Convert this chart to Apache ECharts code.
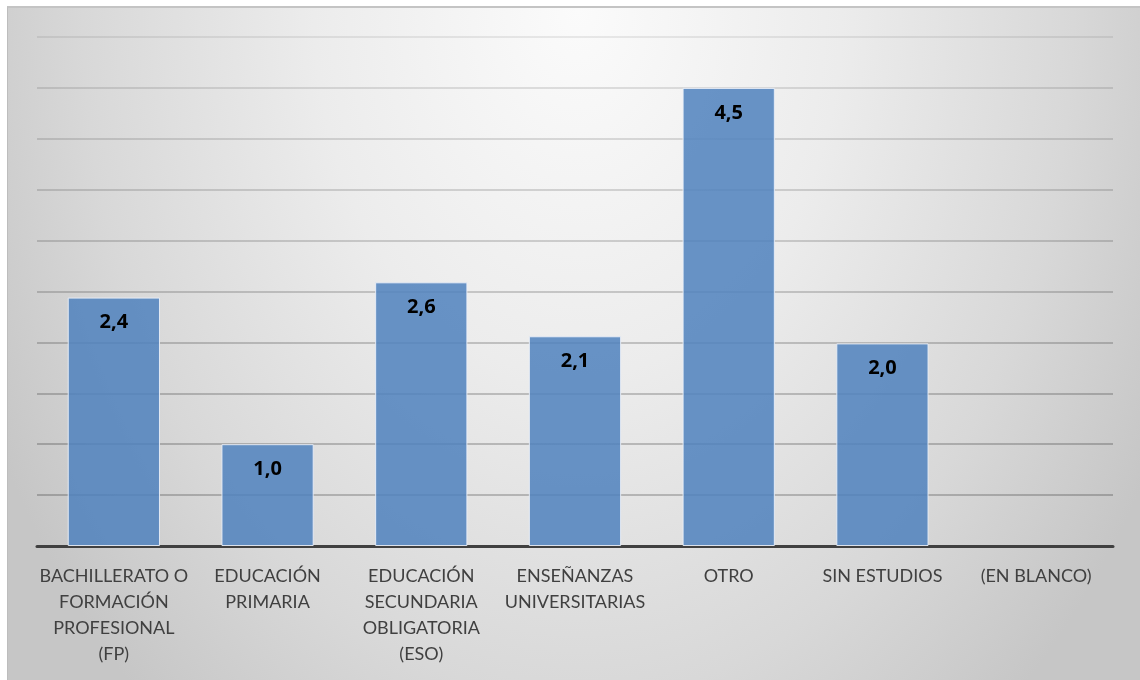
<!DOCTYPE html>
<html>
<head>
<meta charset="utf-8">
<script src="https://cdn.jsdelivr.net/npm/echarts@6/dist/echarts.min.js"></script>
<style>
  html, body { margin: 0; padding: 0; background: #ffffff; }
  #wrap { position: relative; width: 1140px; height: 680px; overflow: hidden; background: #ffffff; }
  #frame {
    position: absolute; left: 7px; top: 6px; width: 1140px; height: 680px;
    border-left: 1px solid #bdbdbd; border-top: 2px solid #c4c4c4;
    background: radial-gradient(ellipse 660px 920px at 50% 0%, #fbfbfb 0%, #ececec 40%, #d8d8d8 75%, #c6c6c6 100%);
  }
  #chart { position: absolute; left: 0; top: 0; width: 1140px; height: 680px; }
</style>
</head>
<body>
<div id="wrap">
  <div id="frame"></div>
  <div id="chart"></div>
</div>
<script>
const categories = [
  "BACHILLERATO O\nFORMACIÓN\nPROFESIONAL\n(FP)",
  "EDUCACIÓN\nPRIMARIA",
  "EDUCACIÓN\nSECUNDARIA\nOBLIGATORIA\n(ESO)",
  "ENSEÑANZAS\nUNIVERSITARIAS",
  "OTRO",
  "SIN ESTUDIOS",
  "(EN BLANCO)"
];
const values = [2.44, 1.0, 2.59, 2.06, 4.5, 1.99, null];
const yMin = 0, yMax = 5, yStep = 0.5;
const gridColors = [
  'rgba(0,0,0,0.30)', 'rgba(0,0,0,0.28)', 'rgba(0,0,0,0.28)', 'rgba(0,0,0,0.27)',
  'rgba(0,0,0,0.25)', 'rgba(0,0,0,0.23)', 'rgba(0,0,0,0.21)', 'rgba(0,0,0,0.19)',
  'rgba(0,0,0,0.17)', 'rgba(0,0,0,0.15)', 'rgba(0,0,0,0.10)'
];

const chart = echarts.init(document.getElementById('chart'), null, { renderer: 'canvas' });
chart.setOption({
  backgroundColor: 'transparent',
  animation: false,
  textStyle: { fontFamily: 'Lato, "Open Sans", sans-serif' },
  grid: { left: 37, right: 27, top: 37, bottom: 134, containLabel: false },
  xAxis: {
    type: 'category',
    data: categories,
    axisLine: { show: true, lineStyle: { color: '#404040', width: 3 } },
    axisTick: { show: false },
    axisLabel: {
      interval: 0, color: '#404040', fontSize: 18, lineHeight: 26, margin: 17,
      fontFamily: 'Lato, sans-serif', align: 'center'
    },
    splitLine: { show: false }
  },
  yAxis: {
    type: 'value', min: yMin, max: yMax, interval: yStep,
    axisLine: { show: false }, axisTick: { show: false }, axisLabel: { show: false },
    splitLine: { show: true, lineStyle: { color: gridColors, width: 1.5 } }
  },
  series: [{
    type: 'bar',
    data: values,
    barCategoryGap: '40%',
    itemStyle: { color: 'rgba(79,129,189,0.85)', borderColor: 'rgba(235,240,248,0.9)', borderWidth: 1 },
    label: {
      show: true, position: 'insideTop', distance: 15,
      color: '#000000', fontWeight: 700, fontSize: 20, fontFamily: '"Open Sans", sans-serif',
      formatter: p => p.value == null ? '' : p.value.toFixed(1).replace('.', ',')
    }
  }]
});
</script>
</body>
</html>
